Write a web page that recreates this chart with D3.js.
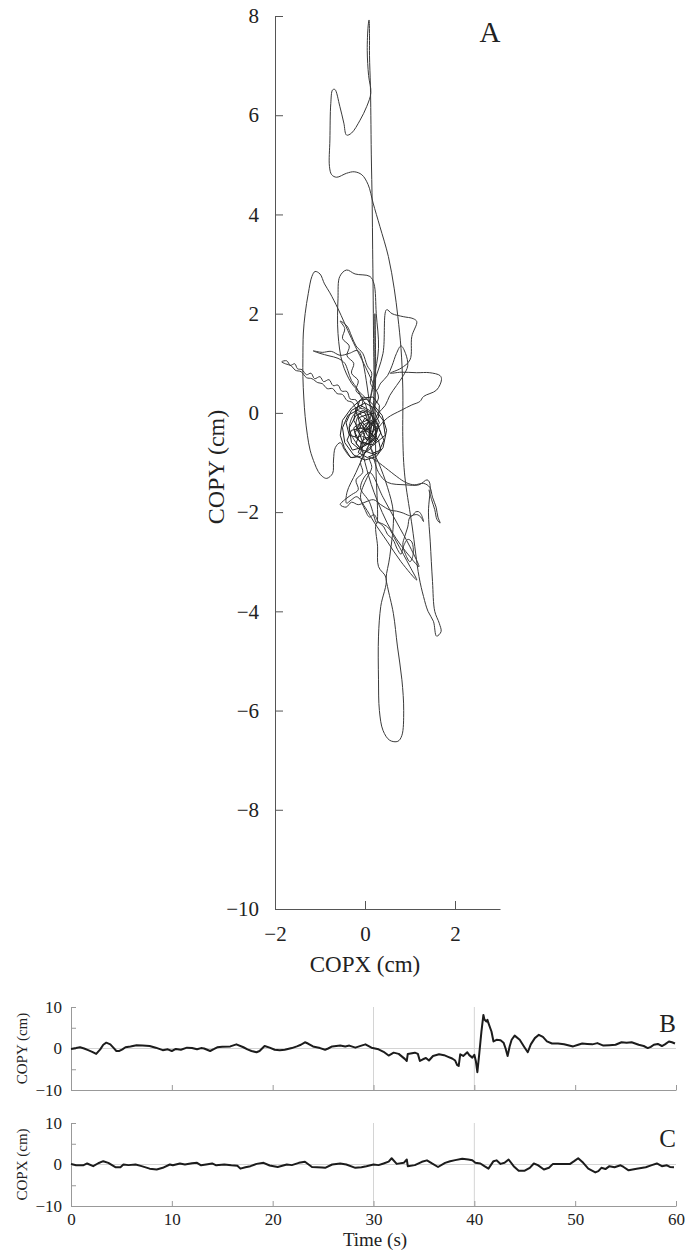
<!DOCTYPE html>
<html>
<head>
<meta charset="utf-8">
<script src="https://cdn.jsdelivr.net/npm/d3@7"></script>
<style>
  html, body { margin: 0; padding: 0; background: #fff; }
  svg { display: block; }
  text { font-family: "Liberation Serif", "Times New Roman", Times, "DejaVu Serif", serif; fill: #222; }
</style>
</head>
<body>
<svg id="chart" width="685" height="1252"></svg>
<script>
// ---------------- DATA ----------------
// Panel A: centre-of-pressure trajectory [COPX, COPY] (cm) — large smooth excursions
const copTrajectory = [
  [0,-0.3],[0.1,-0.1],[-0.05,0.05],[-0.2,-0.2],[-0.1,-0.45],[0.12,-0.5],[0.2,-0.25],
  [0.18,-0.1],[0.2,0.5],[0.19,1.5],[0.18,2.5],[0.17,3.3],[0.16,4.2],[0.14,5.2],[0.13,6.0],[0.12,6.6],
  [0.1,7.2],[0.1,7.6],[0.09,7.92],[0.07,7.8],[0.05,7.3],[0.08,6.8],[0.13,6.45],[0.04,6.18],[-0.11,5.9],
  [-0.3,5.64],[-0.41,5.6],[-0.47,5.84],[-0.56,6.18],[-0.67,6.52],[-0.72,6.51],[-0.76,6.24],[-0.78,5.5],
  [-0.79,4.97],[-0.74,4.8],[-0.63,4.75],[-0.41,4.83],[-0.24,4.86],[-0.07,4.8],[0.07,4.6],[0.18,4.23],
  [0.33,3.76],[0.52,3.15],[0.65,2.5],[0.73,1.94],[0.8,1.3],[0.84,0.5],[0.84,-0.48],[0.86,-1.0],
  [0.9,-1.4],[1.05,-2.3],[1.2,-3.3],[1.3,-3.7],[1.4,-4.0],[1.52,-4.2],[1.59,-4.5],[1.69,-4.41],
  [1.65,-4.24],[1.55,-4.0],[1.5,-3.4],[1.45,-2.6],[1.41,-2.0],[1.44,-1.42],[1.38,-1.35],[1.2,-1.45],
  [0.9,-1.45],[0.5,-1.4],[0.3,-1.2],[0.1,-0.7],
  [0.0,-0.8],[-0.2,-0.6],[-0.35,-0.3],[-0.2,0.0],[0.05,-0.15],[0.25,-0.35],[0.1,-0.65],
  [0.15,0.05],[0.3,0.3],[0.2,0.55],[0.05,0.85],
  [-0.3,1.5],[-0.6,2.1],[-0.78,2.42],[-0.9,2.6],[-1.0,2.8],[-1.11,2.85],[-1.18,2.75],[-1.26,2.41],
  [-1.33,2.0],[-1.37,1.61],[-1.38,1.1],[-1.38,0.73],[-1.36,0.3],[-1.33,-0.07],[-1.28,-0.45],[-1.22,-0.75],
  [-1.12,-1.02],[-1.04,-1.18],[-0.95,-1.28],[-0.85,-1.32],[-0.72,-1.22],[-0.7,-0.95],[-0.66,-0.7],
  [-0.55,-0.6],[-0.45,-0.75],[-0.3,-0.9],[-0.1,-0.8],
  [0.0,-0.4],[0.2,-0.2],[0.1,0.2],[-0.1,0.4],[-0.3,0.6],[-0.5,1.0],[-0.6,1.6],[-0.6,2.3],[-0.56,2.75],
  [-0.41,2.88],[-0.22,2.8],[0.11,2.75],[0.2,2.6],[0.25,2.0],[0.3,1.3],[0.2,0.7],[0.1,0.2],
  [0.2,0.6],[0.4,1.2],[0.48,2.08],[0.6,2.0],[0.85,1.94],[1.07,1.9],[1.15,1.84],[1.04,1.54],[1.0,1.07],
  [0.8,0.9],[0.56,0.8],[0.8,0.82],[1.15,0.81],[1.44,0.81],[1.67,0.75],[1.7,0.67],[1.59,0.46],[1.3,0.33],
  [1.22,0.23],[1.04,0.16],[0.8,0.05],[0.5,-0.1],[0.3,-0.3],
  [0.0,-0.8],[-0.2,-1.2],[-0.4,-1.6],[-0.41,-1.82],[-0.3,-1.75],[-0.18,-1.69],[0.0,-1.9],[0.2,-2.2],
  [0.5,-2.6],[0.8,-3.0],[1.15,-3.37],[1.0,-3.1],[0.7,-2.6],[0.5,-2.3],[0.26,-2.22],[0.28,-2.7],[0.3,-3.1],
  [0.47,-3.33],[0.35,-3.9],[0.3,-4.5],[0.3,-5.38],[0.32,-6.0],[0.4,-6.4],[0.55,-6.6],[0.73,-6.62],
  [0.82,-6.5],[0.86,-6.0],[0.82,-5.38],[0.72,-4.7],[0.63,-4.04],[0.5,-3.5],[0.47,-3.33],[0.55,-2.9],
  [0.63,-2.02],[0.5,-1.5],[0.3,-1.0],[0.1,-0.6],
  [0.22,0.2],[0.22,2.0],[0.22,0.5],[0.24,-1.0],[0.26,-2.22],
  [0.1,-1.8],[-0.1,-1.5],[0.1,-1.2],[0.4,-1.7],[0.7,-2.2],[1.0,-2.7],[1.2,-3.1],[1.0,-2.9],[0.6,-2.4],
  [0.2,-1.6],[0.0,-1.0],[-0.1,-0.6]
];

// Panel A: wandering segments with fine irregularity (cm)
const copWander = [
  [0.1,-0.1],[0.0,0.07],[-0.12,0.1],[-0.2,0.26],[-0.33,0.28],[-0.4,0.43],[-0.52,0.44],[-0.6,0.56],
  [-0.71,0.55],[-0.8,0.67],[-0.92,0.63],[-1.0,0.73],[-1.12,0.69],[-1.2,0.8],[-1.3,0.77],[-1.4,0.87],
  [-1.5,0.89],[-1.56,0.99],[-1.66,0.96],[-1.74,1.05],[-1.85,1.03],[-1.77,0.99],[-1.64,0.95],[-1.55,0.86],
  [-1.42,0.83],[-1.3,0.71],[-1.18,0.69],[-1.05,0.61],[-0.95,0.59],[-0.84,0.49],[-0.72,0.49],[-0.62,0.39],
  [-0.5,0.37],[-0.4,0.25],[-0.28,0.21],[-0.18,0.07],
  [-0.1,0.1],[-0.05,0.3],[-0.2,0.45],[-0.15,0.65],[-0.3,0.8],[-0.25,1.0],[-0.4,1.15],[-0.35,1.35],
  [-0.5,1.5],[-0.45,1.7],[-0.55,1.85],[-0.4,1.75],[-0.3,1.55],[-0.2,1.35],[-0.05,1.2],[0.05,0.95],
  [0.15,0.8],[0.12,0.6],[0.25,0.45],[0.35,0.6],[0.5,0.75],[0.6,0.95],[0.7,1.2],[0.8,1.35],[0.9,1.2],
  [0.95,0.95],[0.85,0.75],[0.7,0.55],[0.55,0.35],[0.45,0.15],[0.3,0.0],[0.2,-0.15],
  [-0.15,1.25],[-0.35,1.2],[-0.55,1.16],[-0.75,1.24],[-0.95,1.22],[-1.15,1.25],[-1.0,1.2],[-0.8,1.15],
  [-0.6,1.1],[-0.45,1.0],[-0.38,0.85],[-0.3,0.65],[-0.18,0.5],[-0.08,0.3],[0.02,0.15],
  [0.1,-0.6],[0.0,-0.8],[-0.1,-1.0],[-0.05,-1.2],[-0.2,-1.35],[-0.15,-1.55],[-0.3,-1.65],[-0.45,-1.75],
  [-0.55,-1.85],[-0.42,-1.9],[-0.3,-1.8],[-0.15,-1.85],[0.0,-1.8],[0.19,-1.75],[0.35,-1.85],[0.56,-1.96],
  [0.7,-1.98],[0.85,-2.02],[0.95,-2.06],[1.04,-2.08],[1.12,-2.0],[1.19,-1.99],[1.25,-2.05],[1.3,-2.19],
  [1.24,-2.1],[1.15,-2.05],[1.0,-2.1],[0.95,-2.3],[0.88,-2.5],[0.84,-2.65],[0.9,-2.85],[1.0,-3.0],
  [1.07,-2.85],[1.04,-2.6],[0.95,-2.55],[0.85,-2.7],[0.8,-2.85],[0.72,-2.75],[0.62,-2.55],[0.5,-2.45],
  [0.42,-2.3],[0.3,-2.2],[0.2,-2.05],[0.1,-2.1],[0.0,-1.95],[-0.1,-1.7],[-0.05,-1.5],[0.05,-1.3],
  [0.15,-1.1],[0.1,-0.9],
  [0.9,-1.4],[1.1,-1.45],[1.3,-1.42],[1.44,-1.5],[1.5,-1.7],[1.58,-1.9],[1.62,-2.1],[1.67,-2.22],
  [1.6,-2.15],[1.55,-1.95],[1.48,-1.75],[1.42,-1.55]
];

// Panel A: dense centre cluster, overlapping loops (cm)
const copCentre = [
  [0.05,-0.3],[0.25,-0.15],[0.35,-0.4],[0.2,-0.65],[-0.05,-0.6],[-0.15,-0.35],[0.0,-0.1],[0.15,-0.25],
  [0.1,-0.5],[-0.1,-0.75],[-0.3,-0.6],[-0.35,-0.3],[-0.2,-0.05],[0.05,0.05],[0.2,-0.1],
  [0.3,-0.3],[0.42,-0.55],[0.3,-0.8],[0.05,-0.9],[-0.15,-0.8],[-0.05,-0.55],[0.15,-0.45],
  [0.22,-0.2],[0.1,0.05],[-0.1,0.15],[-0.3,0.05],[-0.42,-0.2],[-0.35,-0.45],[-0.15,-0.5],[0.0,-0.35],
  [-0.1,-0.2],[-0.25,-0.3],[-0.2,-0.5],[0.0,-0.65],[0.2,-0.55],[0.28,-0.35],[0.15,-0.15],[-0.05,-0.25],
  [0.05,-0.45],[0.25,-0.6],[0.45,-0.45],[0.4,-0.15],[0.2,0.1],[0.0,0.2],[-0.2,0.1],[-0.25,-0.15],
  [-0.1,-0.4],[0.1,-0.3],[0.12,-0.6],[-0.08,-0.7],[-0.28,-0.75],[-0.4,-0.55],[-0.3,-0.35],[-0.05,-0.3],
  [0.18,-0.38],[0.32,-0.2],[0.22,0.0],[0.0,-0.05],[-0.15,-0.1],[-0.1,-0.3],[0.1,-0.4],[0.3,-0.55],
  [0.35,-0.75],[0.15,-0.82],[-0.05,-0.75],[-0.2,-0.62],[-0.12,-0.42],[0.08,-0.2],[0.0,0.0],[-0.18,0.05],
  [-0.38,-0.05],[-0.5,-0.3],[-0.45,-0.6],[-0.25,-0.85],[0.0,-0.95],[0.25,-0.88],[0.4,-0.7],[0.48,-0.35],
  [0.38,-0.05],[0.2,0.15],[0.05,0.28],[-0.12,0.25],[-0.2,0.0],[-0.05,-0.2],[0.1,-0.35],
  [0.2,-0.5],[0.08,-0.62],[-0.12,-0.58],[-0.22,-0.4],[-0.12,-0.22],[0.06,-0.14],[0.22,-0.3],[0.26,-0.5],
  [0.12,-0.72],[-0.1,-0.88],[-0.32,-0.9],[-0.46,-0.7],[-0.55,-0.45],[-0.5,-0.15],[-0.3,0.1],[-0.05,0.3],
  [0.18,0.32],[0.32,0.15],[0.3,-0.1],[0.12,-0.22],[-0.04,-0.4],[0.04,-0.55],[0.24,-0.42],[0.3,-0.25]
];

// Panel B: COPY vs time [s, cm]
const copySeries = [
  [0,-0.1],[0.5,0.1],[0.9,0.3],[1.3,0],[1.7,-0.4],[2.1,-0.8],[2.5,-1.3],[2.9,-0.2],[3.2,0.9],[3.5,1.4],
  [3.9,1.0],[4.2,0.2],[4.5,-0.6],[4.8,-0.6],[5.1,-0.2],[5.4,0.3],[5.9,0.5],[6.5,0.8],[7.1,0.7],[7.8,0.6],
  [8.4,0.2],[9.1,-0.4],[9.6,-0.2],[10.0,-0.6],[10.4,-0.1],[10.9,-0.3],[11.5,0.2],[12.0,0.1],[12.5,-0.2],
  [12.9,0.1],[13.2,0],[13.8,-0.6],[14.2,-0.1],[14.5,0.3],[15.0,0.4],[15.8,0.5],[16.4,1.0],[17.1,0.3],
  [17.5,-0.2],[17.9,-0.6],[18.4,-0.9],[18.7,-0.6],[19.2,0.6],[19.7,0.2],[20.2,-0.3],[20.7,-0.4],[21.2,-0.3],
  [21.9,0.1],[22.4,0.5],[22.8,0.9],[23.2,1.5],[23.5,1.2],[24.0,0.5],[24.7,0.1],[25.2,-0.3],[25.5,0],
  [25.9,0.5],[26.7,0.7],[27.2,0.5],[27.6,0.7],[28.2,0.2],[28.8,0.7],[29.2,1.0],[29.8,0.2],[30.5,-0.2],
  [31.0,-0.8],[31.5,-1.7],[32.0,-1.0],[32.5,-1.3],[33.1,-2.5],[33.3,-3.0],[33.4,-1.3],[34.1,-1.0],
  [34.4,-1.3],[34.6,-3.0],[34.9,-2.6],[35.2,-2.3],[35.5,-2.9],[35.9,-1.8],[36.5,-1.4],[37.0,-1.6],
  [37.4,-2.0],[37.8,-2.4],[38.1,-2.9],[38.3,-4.0],[38.45,-4.2],[38.6,-1.4],[38.9,-1.8],[39.3,-0.9],
  [39.5,-1.6],[39.8,-2.2],[40.0,-1.5],[40.15,-3.0],[40.3,-5.7],[40.5,-1.0],[40.7,4.0],[40.9,8.1],
  [41.0,7.0],[41.2,6.5],[41.3,6.9],[41.4,6.1],[41.7,4.1],[41.9,1.7],[42.2,2.1],[42.6,2.0],[42.9,1.4],
  [43.1,0],[43.3,-1.8],[43.5,0.5],[43.7,2.1],[44.0,3.1],[44.5,2.1],[45.0,0.2],[45.3,-0.9],[45.6,1.0],
  [46.0,2.5],[46.4,3.3],[46.8,2.8],[47.2,1.7],[47.7,1.2],[48.3,1.2],[48.9,1.0],[49.3,0.8],[49.8,0.5],
  [50.3,0.9],[50.7,1.2],[51.2,1.1],[51.7,1.0],[52.2,1.3],[52.8,0.7],[53.4,0.8],[54.0,0.9],[54.6,1.5],
  [55.1,1.4],[55.6,1.5],[56.3,0.9],[56.8,0.6],[57.2,0.1],[57.5,0.4],[57.8,0.9],[58.2,1.1],[58.6,0.6],
  [58.9,1.0],[59.3,1.7],[59.6,1.5],[59.9,1.2]
];

// Panel C: COPX vs time [s, cm]
const copxSeries = [
  [0,0.15],[0.5,-0.2],[1.2,-0.2],[1.6,0.25],[2.2,-0.4],[2.7,0.3],[3.2,0.8],[3.7,0.4],[4.4,-0.65],
  [4.9,-0.65],[5.2,0],[5.7,-0.15],[6.4,0],[7.0,-0.4],[7.8,-1.0],[8.5,-1.2],[9.1,-0.8],[9.8,0],[10.1,-0.2],
  [10.8,0.25],[11.3,0],[12.0,0.3],[12.5,0.4],[12.9,-0.2],[13.4,0],[14.0,0.25],[14.4,-0.2],[15.2,0],
  [15.9,-0.2],[16.5,-0.3],[16.8,-1.0],[17.3,-0.65],[17.8,-0.4],[18.4,0.15],[19.1,0.4],[19.7,-0.25],
  [20.5,-0.6],[21.4,0],[21.9,-0.15],[22.6,0.4],[23.2,0.65],[23.9,-0.6],[24.9,-0.7],[25.2,-0.8],[25.9,0],
  [26.7,0.25],[27.3,0],[28.2,-0.8],[28.8,-0.65],[29.3,-0.4],[30.0,0],[30.5,-0.15],[31.0,0.25],[31.5,0.7],
  [31.8,1.5],[32.3,0.15],[33.0,0.4],[33.3,1.2],[33.4,-0.4],[34.1,-0.15],[34.8,0.65],[35.3,1.0],[35.8,0.25],
  [36.4,-0.6],[37.1,0.4],[37.6,0.8],[38.1,1.05],[38.8,1.4],[39.4,1.2],[39.8,1.0],[40.1,0.4],[40.6,0.25],
  [41.0,-0.4],[41.4,-1.0],[41.9,0.8],[42.2,1.0],[42.6,0.15],[43.0,0.4],[43.4,1.2],[43.9,-0.4],[44.4,-1.5],
  [45.0,-1.5],[45.5,-0.8],[45.9,0.25],[46.3,-0.15],[46.9,-1.2],[47.4,-0.8],[47.8,0.15],[48.7,0.15],
  [49.5,0.15],[49.9,0.8],[50.3,1.5],[50.8,0.4],[51.3,-1.0],[52.0,-1.9],[52.3,-1.6],[52.6,-0.8],[53.0,-1.1],
  [53.4,-0.4],[53.9,-0.65],[54.5,-0.2],[54.8,-0.6],[55.3,-1.4],[56.1,-1.0],[57.0,-0.65],[57.6,-0.15],
  [58.1,0.25],[58.6,-0.4],[59.1,-0.2],[59.4,-0.6],[59.8,-0.65]
];

const ticksA_y = [-10,-8,-6,-4,-2,0,2,4,6,8];
const ticksA_x = [-2,0,2];
const ticksTS_y = [-10,-5,0,5,10];
const ticksTS_x = [0,10,20,30,40,50,60];
const gridTimes = [30,40];

// ---------------- DRAW ----------------
const FONT = "'Liberation Serif', 'Times New Roman', Times, 'DejaVu Serif', serif";
const svg = d3.select("#chart");
const fmt = d3.format("");

const xA = d3.scaleLinear().domain([-2,3]).range([275,500]);
const yA = d3.scaleLinear().domain([-10,8]).range([909,16]);

function styleAxis(g, color, fs) {
  g.attr("font-family", FONT);
  g.select(".domain").attr("stroke", color).attr("stroke-width", 1);
  g.selectAll(".tick line").attr("stroke", color).attr("stroke-width", 1);
  g.selectAll(".tick text").attr("fill", "#222").attr("font-size", fs).attr("font-family", FONT);
}

const lineSmooth = d3.line().x(d => xA(d[0])).y(d => yA(d[1])).curve(d3.curveCatmullRom.alpha(0.5));
const lineJag = d3.line().x(d => xA(d[0])).y(d => yA(d[1]));
const gTraj = svg.append("g").attr("fill", "none").attr("stroke", "#3a3a3a")
  .attr("stroke-width", 1).attr("stroke-linejoin", "round");
gTraj.append("path").datum(copTrajectory).attr("d", lineSmooth);
gTraj.append("path").datum(copWander).attr("d", lineSmooth);
gTraj.append("path").datum(copCentre).attr("d", lineJag).attr("stroke", "#222");

const gAy = svg.append("g").attr("transform", "translate(275,0)")
  .call(d3.axisLeft(yA).tickValues(ticksA_y).tickSize(-8).tickSizeOuter(0).tickPadding(16).tickFormat(fmt));
styleAxis(gAy, "#555", 21);
const gAx = svg.append("g").attr("transform", "translate(0,909)")
  .call(d3.axisBottom(xA).tickValues(ticksA_x).tickSize(-8).tickSizeOuter(0).tickPadding(17).tickFormat(fmt));
styleAxis(gAx, "#555", 21);

svg.append("text").attr("transform", "translate(224,467) rotate(-90)").attr("font-family", FONT)
  .attr("text-anchor", "middle").attr("font-size", 24).text("COPY (cm)");
svg.append("text").attr("x", 365).attr("y", 972).attr("font-family", FONT)
  .attr("text-anchor", "middle").attr("font-size", 23).text("COPX (cm)");
svg.append("text").attr("x", 490).attr("y", 42).attr("font-family", FONT)
  .attr("text-anchor", "middle").attr("font-size", 29).text("A");

// Panels B and C
const xT = d3.scaleLinear().domain([0,60]).range([71,676]);
function timePanel(series, top, bottom, ylabel, letter, letterBase, showXLabels) {
  const y = d3.scaleLinear().domain([-10,10]).range([bottom, top]);
  const g = svg.append("g");
  g.selectAll("line.vg").data(gridTimes).join("line")
    .attr("x1", d => xT(d)).attr("x2", d => xT(d))
    .attr("y1", y(10)).attr("y2", y(-10))
    .attr("stroke", "#d4d4d4").attr("stroke-width", 1);
  g.append("line").attr("x1", xT(0)).attr("x2", xT(60)).attr("y1", y(0)).attr("y2", y(0))
    .attr("stroke", "#d4d4d4").attr("stroke-width", 1);
  const ay = g.append("g").attr("transform", `translate(${xT(0)},0)`)
    .call(d3.axisLeft(y).tickValues(ticksTS_y).tickSize(-5).tickSizeOuter(0).tickPadding(9)
      .tickFormat(d => d % 10 === 0 ? fmt(d) : ""));
  styleAxis(ay, "#999", 17);
  const ax = g.append("g").attr("transform", `translate(0,${bottom})`)
    .call(d3.axisBottom(xT).tickValues(ticksTS_x).tickSize(-5).tickSizeOuter(0).tickPadding(7)
      .tickFormat(d => showXLabels ? fmt(d) : ""));
  styleAxis(ax, "#999", 17);
  g.append("path").datum(series)
    .attr("fill", "none").attr("stroke", "#1c1c1c").attr("stroke-width", 2)
    .attr("stroke-linejoin", "round")
    .attr("d", d3.line().x(d => xT(d[0])).y(d => y(d[1])));
  g.append("text").attr("transform", `translate(27,${(top + bottom) / 2}) rotate(-90)`)
    .attr("font-family", FONT).attr("text-anchor", "middle").attr("font-size", 15).text(ylabel);
  g.append("text").attr("x", 676).attr("y", letterBase).attr("font-family", FONT)
    .attr("text-anchor", "end").attr("font-size", 25).text(letter);
}
timePanel(copySeries, 1007, 1090, "COPY (cm)", "B", 1032, false);
timePanel(copxSeries, 1123, 1206, "COPX (cm)", "C", 1147, true);
svg.append("text").attr("x", 375).attr("y", 1246).attr("font-family", FONT)
  .attr("text-anchor", "middle").attr("font-size", 19).text("Time (s)");
</script>
</body>
</html>
